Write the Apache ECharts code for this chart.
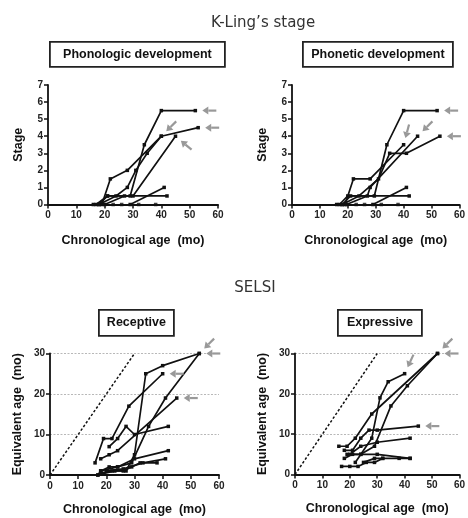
<!DOCTYPE html>
<html><head><meta charset="utf-8">
<script src="https://cdn.jsdelivr.net/npm/echarts@6/dist/echarts.min.js"></script>
<style>html,body{margin:0;padding:0;background:#fff}#c{width:468px;height:518px}</style>
</head><body><div id="c"></div>
<script>
// ---------- data ----------
const xTickValues = [0, 10, 20, 30, 40, 50, 60];
const stageTicks = [0, 1, 2, 3, 4, 5, 6, 7];
const selsiTicks = [0, 10, 20, 30];

const phonologicPaths = [
  [[16,0],[19,0],[22,1.5],[28,2],[40,4],[53,4.5]],
  [[17,0],[21,0.5],[29,0.5],[34,3.5],[40,5.5],[52,5.5]],
  [[18,0],[24,0.5],[28,1],[31,2],[35,3],[40,4]],
  [[20,0],[27,0.5],[30,0.5],[45,4]],
  [[18,0],[21,0.5],[42,0.5]],
  [[29,0],[41,1]]
];
const phonologicZeros = [[23,0],[26,0],[32,0],[38,0]];
const phonologicArrows = [[52,5.5,0],[53,4.5,0],[40,4,45],[45,4,-40]];

const phoneticPaths = [
  [[16,0],[19,0],[22,1.5],[28,1.5],[40,3.5]],
  [[17,0],[20,0.5],[29.5,0.5],[34,3.5],[40,5.5],[52,5.5]],
  [[18,0],[24,0.5],[31,1.5],[35,3],[41,3],[53,4]],
  [[19.5,0],[27,0.5],[28,1],[45,4]],
  [[18,0],[21,0.5],[42,0.5]],
  [[29,0],[41,1]]
];
const phoneticZeros = [[23,0],[26,0],[32,0],[38,0]];
const phoneticArrows = [[52,5.5,0],[53,4,0],[40,3.5,75],[45,4,45]];

const receptivePaths = [
  [[17,0],[23,1],[27,1],[30,5],[34,25],[40,27],[53,30]],
  [[18,1],[24,2],[29,3],[35,12],[41,19],[53,30]],
  [[16,3],[19,9],[22,9],[28,17],[40,25]],
  [[18,4],[21,5],[24,6],[45,19]],
  [[21,7],[24,9],[27,12],[30,10],[42,12]],
  [[17,0],[18,1],[21,2],[24,2],[30,4],[42,6]],
  [[18,0.5],[22,1],[26,1],[29,2],[32,3],[38,3]],
  [[20,1],[26,1.5],[33,3],[41,4]]
];
const receptiveArrows = [[53,30,45],[53,30,0],[40,25,0],[45,19,0]];

const expressivePaths = [
  [[16,7],[19,7],[22,9],[28,15],[52,30]],
  [[22,3],[28,9],[31,19],[34,23],[40,25]],
  [[18,4],[21,5],[24,5],[29,7],[35,17],[41,22],[52,30]],
  [[18,6],[21,6],[24,9],[27,11],[30,11],[45,12]],
  [[20,5],[24,7],[30,8],[42,9]],
  [[17,2],[20,2],[23,2],[26,3],[29,3],[32,4],[38,4],[42,4]],
  [[19,5],[24,5],[30,5],[42,4]],
  [[25,3],[29,4],[32,4]]
];
const expressiveArrows = [[52,30,45],[52,30,0],[40,25,65],[45,12,0]];

const identityLine = [[0,0],[30,30]];

// ---------- chart ----------
const chart = echarts.init(document.getElementById('c'), null, {renderer: 'canvas'});
const AX = 'Liberation Sans, Arial, sans-serif';

const grids = [
  {left: 48, top: 85, width: 170, height: 119.5},
  {left: 292, top: 85, width: 170, height: 119.5},
  {left: 50, top: 353.5, width: 169, height: 121.5},
  {left: 295, top: 353.5, width: 169, height: 121}
];

function xAxisFor(i) {
  return {
    gridIndex: i, type: 'value', min: 0, max: 60, interval: 10,
    name: 'Chronological age  (mo)', nameLocation: 'middle',
    nameGap: i < 2 ? 30 : 28,
    nameTextStyle: {fontFamily: AX, fontWeight: 'bold', fontSize: 12.5, color: '#111'},
    axisLine: {show: true, onZero: false, lineStyle: {color: '#111', width: 1.8}},
    axisTick: {show: true, length: 4, lineStyle: {color: '#111', width: 1.5}},
    axisLabel: {fontFamily: AX, fontWeight: 'bold', fontSize: 10, color: '#222', margin: 6,
      formatter: v => xTickValues.includes(v) ? String(v) : ''},
    splitLine: {show: false}
  };
}
function yAxisFor(i) {
  const upper = i < 2;
  return {
    gridIndex: i, type: 'value', min: 0, max: upper ? 7 : 30, interval: upper ? 1 : 10,
    name: upper ? 'Stage' : 'Equivalent age  (mo)', nameLocation: 'middle',
    nameGap: upper ? 23 : 26,
    nameTextStyle: {fontFamily: AX, fontWeight: 'bold', fontSize: 12.5, color: '#111'},
    axisLine: {show: true, onZero: false, lineStyle: {color: '#111', width: 1.8}},
    axisTick: {show: true, length: 4, lineStyle: {color: '#111', width: 1.5}},
    axisLabel: {fontFamily: AX, fontWeight: 'bold', fontSize: 10, color: '#222', margin: 5,
      formatter: v => (upper ? stageTicks : selsiTicks).includes(v) ? String(v) : ''},
    splitLine: upper ? {show: false} : {show: true, lineStyle: {color: '#b8b8b8', width: 1, type: [2, 1.5]}}
  };
}

const series = [];
function addPaths(paths, gi) {
  paths.forEach(p => series.push({
    type: 'line', xAxisIndex: gi, yAxisIndex: gi, data: p,
    symbol: 'rect', symbolSize: 3.5, showSymbol: true,
    lineStyle: {color: '#111', width: 1.7}, itemStyle: {color: '#111'},
    animation: false, silent: true, z: 3
  }));
}
function addDots(dots, gi) {
  series.push({type: 'scatter', xAxisIndex: gi, yAxisIndex: gi, data: dots,
    symbol: 'rect', symbolSize: 3.5, itemStyle: {color: '#111'}, animation: false, z: 4});
}
function addArrows(arrows, gi) {
  series.push({
    type: 'custom', xAxisIndex: gi, yAxisIndex: gi, data: arrows, clip: false,
    encode: {x: 0, y: 1}, animation: false, z: 5,
    renderItem: (params, api) => {
      const p = api.coord([api.value(0), api.value(1)]);
      const a = api.value(2) * Math.PI / 180;
      const dx = Math.cos(a), dy = -Math.sin(a);
      const gap = 7, len = 14, head = 6, hw = 4;
      const tip = [p[0] + dx * gap, p[1] + dy * gap];
      const base = [tip[0] + dx * head, tip[1] + dy * head];
      const tail = [tip[0] + dx * len, tip[1] + dy * len];
      const nx = -dy, ny = dx;
      return {type: 'group', children: [
        {type: 'line', shape: {x1: base[0], y1: base[1], x2: tail[0], y2: tail[1]},
          style: {stroke: '#999', lineWidth: 2.2}},
        {type: 'polygon', shape: {points: [tip, [base[0] + nx * hw, base[1] + ny * hw], [base[0] - nx * hw, base[1] - ny * hw]]},
          style: {fill: '#999'}}
      ]};
    }
  });
}
function addIdentity(gi) {
  series.push({type: 'line', xAxisIndex: gi, yAxisIndex: gi, data: identityLine,
    showSymbol: false, lineStyle: {color: '#111', width: 1.5, type: [2.5, 2]}, animation: false, z: 2});
}

addPaths(phonologicPaths, 0); addDots(phonologicZeros, 0); addArrows(phonologicArrows, 0);
addPaths(phoneticPaths, 1); addDots(phoneticZeros, 1); addArrows(phoneticArrows, 1);
addIdentity(2); addPaths(receptivePaths, 2); addArrows(receptiveArrows, 2);
addIdentity(3); addPaths(expressivePaths, 3); addArrows(expressiveArrows, 3);

function box(x, y, w, h, label) {
  return {type: 'group', left: x, top: y, children: [
    {type: 'rect', shape: {x: 0, y: 0, width: w, height: h}, style: {fill: '#fff', stroke: '#222', lineWidth: 1.8}},
    {type: 'text', x: w / 2, y: h / 2, style: {text: label, fontFamily: AX, fontWeight: 'bold', fontSize: 12.5,
      fill: '#111', align: 'center', verticalAlign: 'middle'}}
  ]};
}

chart.setOption({
  backgroundColor: '#fff',
  animation: false,
  title: [
    {text: 'K-Ling\u2019s stage', left: 258, top: 11, textAlign: 'center',
      textStyle: {fontFamily: 'DejaVu Sans', fontWeight: 'normal', fontSize: 15, color: '#333'}},
    {text: 'SELSI', left: 250, top: 276, textAlign: 'center',
      textStyle: {fontFamily: 'DejaVu Sans', fontWeight: 'normal', fontSize: 15, color: '#333'}}
  ],
  grid: grids,
  xAxis: [0, 1, 2, 3].map(xAxisFor),
  yAxis: [0, 1, 2, 3].map(yAxisFor),
  series: series,
  graphic: [
    box(49, 41, 175, 25, 'Phonologic development'),
    box(302, 41, 150, 25, 'Phonetic development'),
    box(98, 309, 75, 26, 'Receptive'),
    box(337, 309, 84, 26, 'Expressive')
  ]
});
</script></body></html>
